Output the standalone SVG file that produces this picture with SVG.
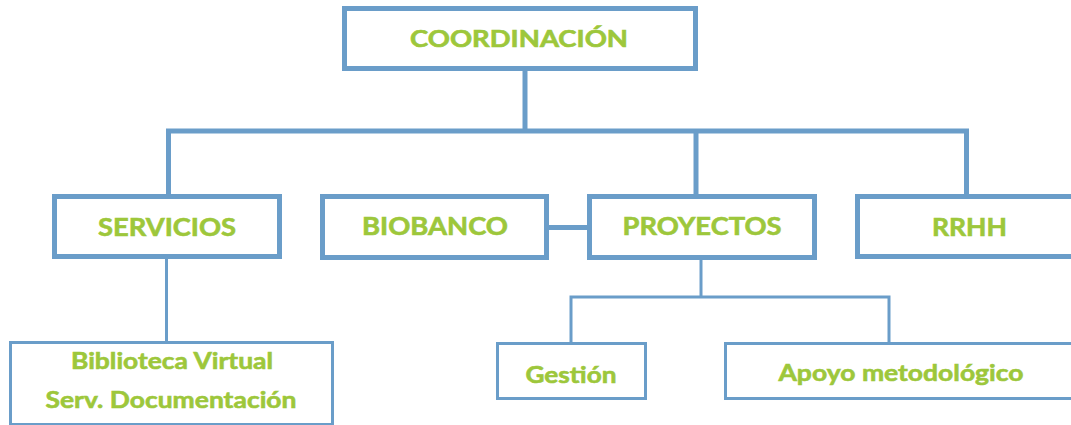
<svg xmlns="http://www.w3.org/2000/svg" width="1071" height="425" viewBox="0 0 1071 425">
  <style>
    .box { fill: #ffffff; stroke: #6A9DC9; }
    .thick { stroke-width: 5; }
    .thin { stroke-width: 3; }
    .conn { fill: none; stroke: #6A9DC9; stroke-linejoin: miter; stroke-linecap: butt; }
    .lbl { font-family: Lato, "Liberation Sans", sans-serif; font-weight: bold; fill: #9DC73B; stroke: #9DC73B; stroke-width: 0.6; text-anchor: middle; }
  </style>
  <rect width="1071" height="425" fill="#ffffff"/>
  <g id="connectors">
    <path class="conn thick" d="M525 71 V131"/>
    <path class="conn thick" d="M168.5 194 V131 H966.5 V194"/>
    <path class="conn thick" d="M696 131 V194"/>
    <path class="conn thick" d="M549 227.5 H587"/>
    <path class="conn thin" d="M166.5 259 V341"/>
    <path class="conn thin" d="M701 260 V297"/>
    <path class="conn thin" d="M571 342 V297 H889 V342"/>
  </g>
  <g id="coordinacion">
    <rect class="box thick" x="344.5" y="8.5" width="351" height="60"/>
    <text class="lbl" x="519" y="47" font-size="22" textLength="218" lengthAdjust="spacingAndGlyphs">COORDINACIÓN</text>
  </g>
  <g id="servicios">
    <rect class="box thick" x="54.5" y="196.5" width="225" height="60"/>
    <text class="lbl" x="167" y="236" font-size="24" textLength="138" lengthAdjust="spacingAndGlyphs">SERVICIOS</text>
  </g>
  <g id="biobanco">
    <rect class="box thick" x="322.5" y="196.5" width="224" height="61"/>
    <text class="lbl" x="435" y="235" font-size="24" textLength="146" lengthAdjust="spacingAndGlyphs">BIOBANCO</text>
  </g>
  <g id="proyectos">
    <rect class="box thick" x="589.5" y="196.5" width="225" height="61"/>
    <text class="lbl" x="702" y="235" font-size="24" textLength="159" lengthAdjust="spacingAndGlyphs">PROYECTOS</text>
  </g>
  <g id="rrhh">
    <rect class="box thick" x="857.5" y="196.5" width="223" height="60"/>
    <text class="lbl" x="969.5" y="235.5" font-size="24" textLength="75" lengthAdjust="spacingAndGlyphs">RRHH</text>
  </g>
  <g id="biblioteca">
    <rect class="box thin" x="10.5" y="342.5" width="322" height="82"/>
    <text class="lbl" x="172" y="369" font-size="23" textLength="202" lengthAdjust="spacingAndGlyphs">Biblioteca Virtual</text>
    <text class="lbl" x="171" y="407.5" font-size="23" textLength="251" lengthAdjust="spacingAndGlyphs">Serv. Documentación</text>
  </g>
  <g id="gestion">
    <rect class="box thin" x="497.5" y="343.5" width="148" height="55"/>
    <text class="lbl" x="571" y="382.5" font-size="23" textLength="91" lengthAdjust="spacingAndGlyphs">Gestión</text>
  </g>
  <g id="apoyo">
    <rect class="box thin" x="725.5" y="343.5" width="352" height="55"/>
    <text class="lbl" x="901" y="380.5" font-size="23" textLength="245" lengthAdjust="spacingAndGlyphs">Apoyo metodológico</text>
  </g>
</svg>
